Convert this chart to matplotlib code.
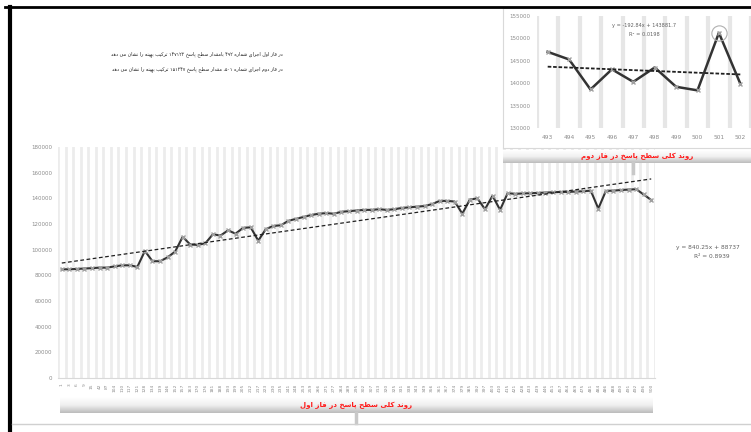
import re
import numpy as np
import matplotlib
matplotlib.use('Agg')
import matplotlib.pyplot as plt
from matplotlib.lines import Line2D
from matplotlib.colors import LinearSegmentedColormap

plt.rcParams['font.family'] = ['DejaVu Sans']

# phase one (main chart)
phase1_labels = [1, 3, 6, 9, 15, 42, 87,
                 104, 110, 117, 121, 128, 134, 139, 146, 152, 157,
                 163, 170, 176, 181, 188, 193, 199, 205, 212, 217,
                 223, 230, 235, 241, 248, 253, 259, 266, 271, 277,
                 284, 289, 295, 302, 307, 313, 320, 325, 331, 338,
                 343, 349, 356, 361, 367, 374, 379, 385, 392, 397,
                 403, 410, 415, 421, 428, 433, 439, 446, 451, 457,
                 464, 469, 475, 481, 484, 486, 488, 490, 491, 492, 496, 500]
phase1_values = [84700, 84700, 85000, 85300, 85600, 86000, 86000, 87000, 87800, 87800, 86600,
                 99000, 91000, 91000, 94000, 98500, 110000, 104000, 103700, 105000, 112000,
                 111000, 115000, 112500, 117000, 117400, 107000, 116000, 118500, 119000, 122500,
                 124000, 125500, 127000, 128000, 128500, 128000, 129500, 130000, 130500, 131000,
                 131000, 131500, 131000, 131500, 132500, 133000, 133500, 134000, 135500, 138000,
                 138000, 137500, 128000, 139000, 140000, 131500, 142000, 131000, 144000, 143500,
                 143800, 144000, 144200, 144500, 144700, 145000, 145000, 145300, 145500, 146000,
                 132000, 145800, 146000, 146500, 146800, 147122, 143000, 138700]
phase1_slope, phase1_icpt = 840.25, 88737

# phase two (inset)
phase2_labels = [493, 494, 495, 496, 497, 498, 499, 500, 501, 502]
phase2_values = [147000, 145300, 138600, 143100, 140300, 143500, 139200, 138400, 151247, 139900]
phase2_slope, phase2_icpt = -192.84, 143881.7

note_lines = ['در فاز اول اجرای شماره ۴۹۲ بامقدار سطح پاسخ ۱۴۷۱۲۲ ترکیب بهینه را نشان می دهد',
              'در فاز دوم اجرای شماره ۵۰۱، مقدار سطح پاسخ ۱۵۱۲۴۷ ترکیب بهینه را نشان می دهد']
title1 = 'روند کلی سطح پاسخ در فاز اول'
title2 = 'روند کلی سطح پاسخ در فاز دوم'

# arabic letters -> (isolated, final, initial, medial)
FORMS = {
    'ا': ('\uFE8D', '\uFE8E', None, None),
    'ب': ('\uFE8F', '\uFE90', '\uFE91', '\uFE92'),
    'پ': ('\uFB56', '\uFB57', '\uFB58', '\uFB59'),
    'ت': ('\uFE95', '\uFE96', '\uFE97', '\uFE98'),
    'ج': ('\uFE9D', '\uFE9E', '\uFE9F', '\uFEA0'),
    'ح': ('\uFEA1', '\uFEA2', '\uFEA3', '\uFEA4'),
    'خ': ('\uFEA5', '\uFEA6', '\uFEA7', '\uFEA8'),
    'د': ('\uFEA9', '\uFEAA', None, None),
    'ر': ('\uFEAD', '\uFEAE', None, None),
    'ز': ('\uFEAF', '\uFEB0', None, None),
    'س': ('\uFEB1', '\uFEB2', '\uFEB3', '\uFEB4'),
    'ش': ('\uFEB5', '\uFEB6', '\uFEB7', '\uFEB8'),
    'ط': ('\uFEC1', '\uFEC2', '\uFEC3', '\uFEC4'),
    'ف': ('\uFED1', '\uFED2', '\uFED3', '\uFED4'),
    'ق': ('\uFED5', '\uFED6', '\uFED7', '\uFED8'),
    'ک': ('\uFB8E', '\uFB8F', '\uFB90', '\uFB91'),
    'ل': ('\uFEDD', '\uFEDE', '\uFEDF', '\uFEE0'),
    'م': ('\uFEE1', '\uFEE2', '\uFEE3', '\uFEE4'),
    'ن': ('\uFEE5', '\uFEE6', '\uFEE7', '\uFEE8'),
    'ه': ('\uFEE9', '\uFEEA', '\uFEEB', '\uFEEC'),
    'و': ('\uFEED', '\uFEEE', None, None),
    'ی': ('\uFBFC', '\uFBFD', '\uFBFE', '\uFBFF'),
}


def fa(s):
    # join letters and put them in visual order
    out = []
    for k, ch in enumerate(s):
        if ch not in FORMS:
            out.append(ch)
            continue
        iso, fin, ini, med = FORMS[ch]
        prev = s[k - 1] if k > 0 else ''
        nxt = s[k + 1] if k + 1 < len(s) else ''
        p = prev in FORMS and FORMS[prev][2] is not None
        n = nxt in FORMS and ini is not None
        if p and n:
            out.append(med)
        elif p:
            out.append(fin)
        elif n:
            out.append(ini)
        else:
            out.append(iso)
    shaped = ''.join(out)
    shaped = re.sub(r'[0-9۰-۹]+', lambda m: m.group()[::-1], shaped)
    return shaped[::-1]


W, H = 751, 432


def rect(l, t, r, b):
    return [l / W, 1 - b / H, (r - l) / W, (b - t) / H]


fig = plt.figure(figsize=(7.51, 4.32), dpi=100)
fig.patch.set_facecolor('white')

grey_txt = '#8c8c8c'

# main chart
ax = fig.add_axes(rect(58, 147, 655, 378))
x1 = np.arange(len(phase1_values))
for k in range(len(phase1_values) + 1):
    ax.axvline(k - 0.5, color='#ececec', lw=2, zorder=0)
ax.plot(x1, phase1_values, color='#333333', lw=1.5, marker='x', ms=2.5, mec='#a0a0a0', zorder=3)
xx1 = np.arange(1, len(phase1_values) + 1)
ax.plot(x1, phase1_slope * xx1 + phase1_icpt, color='#202020', lw=0.9, ls=(0, (3, 2)), zorder=4)
ax.set_xlim(-0.5, len(phase1_values) - 0.5)
ax.set_ylim(0, 180000)
ax.set_yticks(np.arange(0, 180001, 20000))
ax.set_yticklabels([str(v) for v in range(0, 180001, 20000)], fontsize=4, color=grey_txt)
ax.set_xticks(x1)
ax.set_xticklabels([str(v) for v in phase1_labels], rotation=90, fontsize=3.2, color=grey_txt)
ax.tick_params(length=0, pad=4)
for s in ax.spines.values():
    s.set_visible(False)
ax.spines['bottom'].set_visible(True)
ax.spines['bottom'].set_color('#d9d9d9')

fig.text(708 / W, 1 - 248 / H, 'y = 840.25x + 88737', fontsize=4.2, color='#606060', ha='center', va='center')
fig.text(712 / W, 1 - 256 / H, 'R² = 0.8939', fontsize=4.2, color='#606060', ha='center', va='center')

# inset panel (phase two)
panel = fig.add_axes(rect(503, 8, 751, 148))
panel.set_xticks([])
panel.set_yticks([])
for s in panel.spines.values():
    s.set_color('#d9d9d9')
    s.set_linewidth(0.8)

ax2 = fig.add_axes(rect(537, 16, 751, 128))
x2 = np.arange(len(phase2_values))
for k in range(len(phase2_values) + 1):
    ax2.axvline(k - 0.5, color='#e6e6e6', lw=3, zorder=0)
ax2.plot(x2, phase2_values, color='#333333', lw=1.8, marker='x', ms=3, mec='#a0a0a0', zorder=3)
xx2 = np.arange(1, len(phase2_values) + 1)
ax2.plot(x2, phase2_slope * xx2 + phase2_icpt, color='#202020', lw=1.3, ls=(0, (2, 1)), zorder=4)
best = int(np.argmax(phase2_values))
ax2.plot(x2[best], phase2_values[best], marker='o', ms=11, mfc='none', mec='#b0b0b0', mew=0.8, zorder=5)
ax2.set_xlim(-0.5, len(phase2_values) - 0.5)
ax2.set_ylim(130000, 155000)
ax2.set_yticks(np.arange(130000, 155001, 5000))
ax2.set_yticklabels([str(v) for v in range(130000, 155001, 5000)], fontsize=4, color=grey_txt)
ax2.set_xticks(x2)
ax2.set_xticklabels([str(v) for v in phase2_labels], fontsize=4.2, color=grey_txt)
ax2.tick_params(length=0, pad=5)
for s in ax2.spines.values():
    s.set_visible(False)
ax2.text(0.5, 0.9, 'y = -192.84x + 143881.7', transform=ax2.transAxes, fontsize=3.6, color='#606060', ha='center')
ax2.text(0.5, 0.82, 'R² = 0.0198', transform=ax2.transAxes, fontsize=3.6, color='#606060', ha='center')

# banners
cmap = LinearSegmentedColormap.from_list('band', ['#ffffff', '#f0f0f0', '#bcbcbc'])
grad = np.linspace(0, 1, 60).reshape(-1, 1)


def banner(l, t, r, b, label, cx, tip):
    bx = fig.add_axes(rect(l, t, r, b))
    bx.imshow(grad, aspect='auto', cmap=cmap, extent=[0, 1, 0, 1])
    bx.axis('off')
    bx.text((cx - l) / (r - l), 0.5, fa(label), color='#ff1a1a', fontsize=5, fontweight='bold',
            ha='center', va='center', transform=bx.transAxes)
    fig.add_artist(Line2D([tip / W, tip / W], [1 - b / H, 1 - (b + 10) / H], color='#c8c8c8', lw=2.5,
                          transform=fig.transFigure))


banner(60, 397, 653, 413, title1, 356, 356)
banner(503, 150, 751, 163, title2, 637, 633)

# notes
fig.text(283 / W, 1 - 54 / H, fa(note_lines[0]), fontsize=3.4, color='#202020', ha='right', va='center')
fig.text(283 / W, 1 - 69 / H, fa(note_lines[1]), fontsize=3.4, color='#202020', ha='right', va='center')

# sheet borders
fig.add_artist(Line2D([5 / W, 1], [1 - 7 / H, 1 - 7 / H], color='black', lw=2, transform=fig.transFigure))
fig.add_artist(Line2D([10 / W, 10 / W], [0, 1 - 7 / H], color='black', lw=3, transform=fig.transFigure))
fig.add_artist(Line2D([12 / W, 1], [1 - 424 / H, 1 - 424 / H], color='#d0d0d0', lw=1, transform=fig.transFigure))

fig.savefig('out.png', dpi=100)
